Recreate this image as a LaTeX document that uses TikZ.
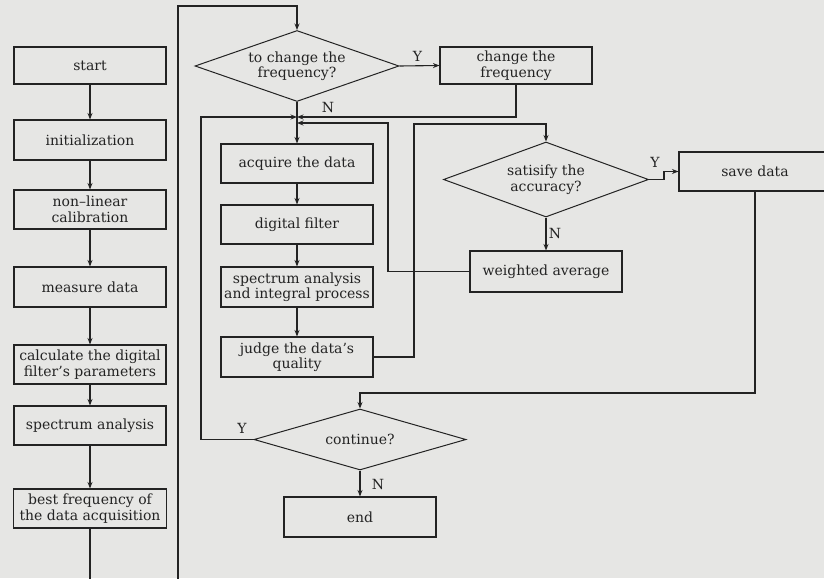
\documentclass[tikz,border=0pt]{standalone}
\usepackage{fontspec}
\setmainfont{DejaVu Serif}
\usetikzlibrary{shapes.geometric,arrows.meta}
\definecolor{bg}{RGB}{230,230,228}
\definecolor{ink}{RGB}{35,35,35}
\begin{document}
\begin{tikzpicture}[x=1pt,y=-1pt,
  every node/.style={text=ink,font=\fontsize{14}{15.5}\selectfont},
  box/.style={draw=ink,line width=1.1pt,rectangle,minimum width=152pt,inner sep=0.5pt,align=center},
  dec/.style={draw=ink,line width=1pt,diamond,aspect=2.9,inner sep=0pt,align=center},
  conn/.style={draw=ink,line width=1.1pt},
  arr/.style={conn,-{Stealth[length=6.5pt,width=5pt]}},
  lbl/.style={font=\fontsize{14}{15.5}\selectfont}]
\fill[bg] (0,0) rectangle (824,578);
\useasboundingbox (0,0) rectangle (824,578);
% left column
\node[box,minimum height=37pt] (start) at (90,65.5) {start};
\node[box,minimum height=40pt] (init) at (90,140) {initialization};
\node[box,minimum height=39pt] (nonlin) at (90,209.5) {non--linear\\calibration};
\node[box,minimum height=40pt] (meas) at (90,287) {measure data};
\node[box,minimum height=39pt] (calc) at (90,364.5) {calculate the digital\\filter's parameters};
\node[box,minimum height=39pt] (spec) at (90,425.5) {spectrum analysis};
\node[box,minimum height=39pt,minimum width=153pt] (best) at (90,508.5) {best frequency of\\the data acquisition};
% middle column
\node[dec,minimum width=204pt,minimum height=71pt] (d1) at (297,66) {to change the\\frequency?};
\node[box,minimum height=37pt] (chg) at (516,65.5) {change the\\frequency};
\node[box,minimum height=39pt] (acq) at (297,163.5) {acquire the data};
\node[box,minimum height=39pt] (filt) at (297,224.5) {digital filter};
\node[box,minimum height=40pt] (spint) at (297,287) {spectrum analysis\\and integral process};
\node[box,minimum height=40pt] (judge) at (297,357) {judge the data's\\quality};
% right part
\node[dec,minimum width=205pt,minimum height=75pt] (d2) at (546,179.5) {satisify the\\accuracy?};
\node[box,minimum height=39pt] (save) at (755,171.5) {save data};
\node[box,minimum height=41pt] (wavg) at (546,271.5) {weighted average};
\node[dec,minimum width=212pt,minimum height=61pt] (d3) at (360,439.5) {continue?};
\node[box,minimum height=40pt] (end) at (360,517) {end};
% coordinates
\coordinate (j1) at (297,117);
\coordinate (j2) at (297,123);
% left column arrows
\draw[arr] (start) -- (init);
\draw[arr] (init) -- (nonlin);
\draw[arr] (nonlin) -- (meas);
\draw[arr] (meas) -- (calc);
\draw[arr] (calc) -- (spec);
\draw[arr] (spec) -- (best);
\draw[arr] (best.south) -- (90,590) -- (178,590) -- (178,6) -- (297,6) -- (d1.north);
% decision 1
\draw[arr] (d1.east) -- node[lbl,above,pos=0.45] {Y} (chg.west);
\draw[arr] (d1.south) -- (acq.north);
\node[lbl] (n1) at (328,107) {N};
\draw[arr] (chg.south) |- (j1);
\draw[arr] (d3.west) -- (201,439.5) -- (201,117) -- (j1);
\node[lbl] (y3) at (242,428) {Y};
\draw[arr] (wavg.west) -| (388,123) -- (j2);
% middle column arrows
\draw[arr] (acq) -- (filt);
\draw[arr] (filt) -- (spint);
\draw[arr] (spint) -- (judge);
\draw[arr] (judge.east) -- (414,357) -- (414,124) -| (d2.north);
% decision 2
\draw[arr] (d2.east) -- (664,179.5) -- (664,171.5) -- (save.west);
\node[lbl] (y2) at (655,162) {Y};
\draw[arr] (d2.south) -- node[lbl,right,pos=0.5,xshift=-1pt] {N} (wavg.north);
\draw[arr] (save.south) -- (755,393) -- (360,393) -- (d3.north);
% decision 3
\draw[arr] (d3.south) -- (end.north);
\node[lbl] (n3) at (378,484) {N};
\end{tikzpicture}
\end{document}
